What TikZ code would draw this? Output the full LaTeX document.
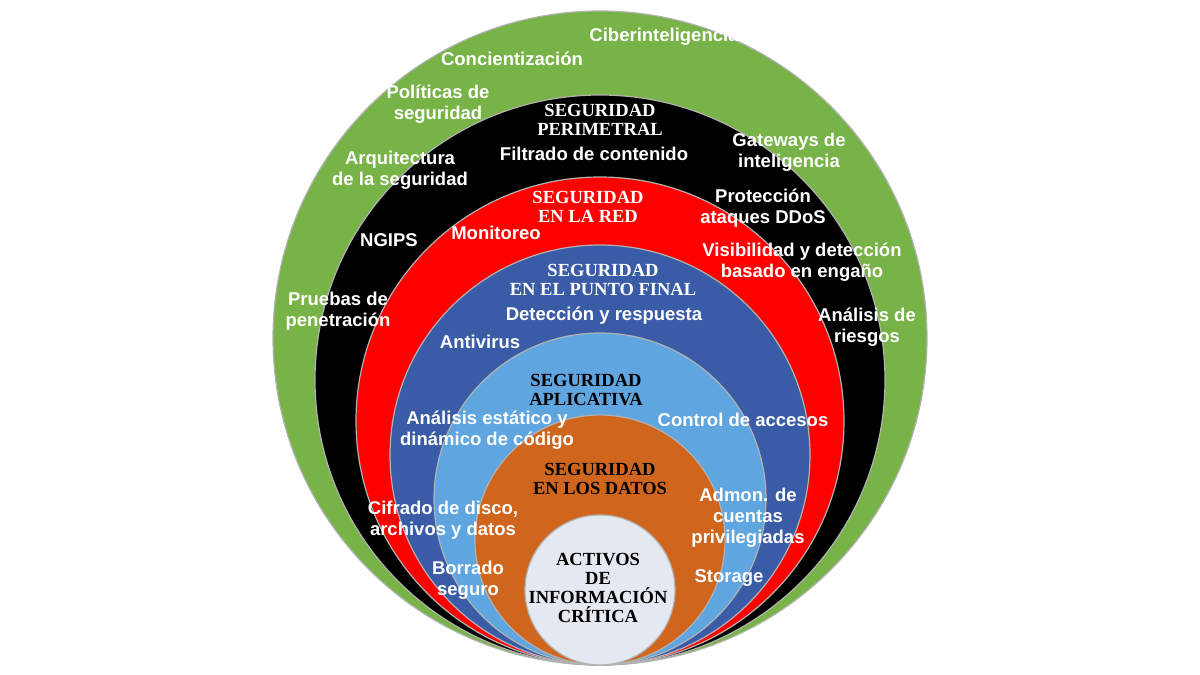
\documentclass[tikz,border=0pt]{standalone}
\usepackage{fontspec}
\setmainfont{Liberation Sans}
\newfontfamily\titlefont{Liberation Serif}
\definecolor{ringgreen}{HTML}{78B347}
\definecolor{ringred}{HTML}{FF0000}
\definecolor{ringblue}{HTML}{3A5CA6}
\definecolor{ringlight}{HTML}{5FA5E0}
\definecolor{ringorange}{HTML}{D0661E}
\definecolor{ringcore}{HTML}{E4E8F0}
\tikzset{
  ring/.style={draw=gray!60, line width=1.2pt},
  lbl/.style={text=white, font=\fontsize{18.5}{21}\selectfont\bfseries, align=center, inner sep=0pt},
  ttl/.style={text=white, font=\titlefont\fontsize{18.5}{19}\selectfont\bfseries, align=center, inner sep=0pt},
}
\begin{document}
\begin{tikzpicture}[x=1pt,y=-1pt]
            \useasboundingbox (0,0) rectangle (1200,675);
            % rings, outside in, all touching at the bottom
            \fill[ring, fill=ringgreen] (600,338) circle (327);
            \fill[ring, fill=black] (600,380) circle (285);
            \fill[ring, fill=ringred] (600,421) circle (244);
            \fill[ring, fill=ringblue] (600,455) circle (210);
            \fill[ring, fill=ringlight] (600,499) circle (166);
            \fill[ring, fill=ringorange] (600,540) circle (125);
            \fill[ring, fill=ringcore] (600,590) circle (75);

            % titles
            \node[ttl] (tPer) at (600,120) {SEGURIDAD\\PERIMETRAL};
            \node[ttl] (tRed) at (588,207) {SEGURIDAD\\EN LA RED};
            \node[ttl] (tFin) at (603,280) {SEGURIDAD\\EN EL PUNTO FINAL};
            \node[ttl, text=black] (tApl) at (586,390) {SEGURIDAD\\APLICATIVA};
            \node[ttl, text=black] (tDat) at (600,479) {SEGURIDAD\\EN LOS DATOS};
            \node[ttl, text=black] (tAct) at (598,588) {ACTIVOS\\DE\\INFORMACIÓN\\CRÍTICA};

            % labels
            \node[lbl] (cib) at (664,37) {Ciberinteligencia};
            \node[lbl] (con) at (512,59) {Concientización};
            \node[lbl] (pol) at (438,104) {Políticas de\\seguridad};
            \node[lbl] (fil) at (594,154) {Filtrado de contenido};
            \node[lbl] (gat) at (789,152) {Gateways de\\inteligencia};
            \node[lbl] (arq) at (400,170) {Arquitectura\\de la seguridad};
            \node[lbl] (pro) at (763,208) {Protección\\ataques DDoS};
            \node[lbl] (ngi) at (389,240) {NGIPS};
            \node[lbl] (mon) at (496,233) {Monitoreo};
            \node[lbl] (vis) at (802,262) {Visibilidad y detección\\basado en engaño};
            \node[lbl] (pru) at (338,311) {Pruebas de\\penetración};
            \node[lbl] (det) at (604,316) {Detección y respuesta};
            \node[lbl] (ana) at (867,327) {Análisis de\\riesgos};
            \node[lbl] (ant) at (480,342) {Antivirus};
            \node[lbl] (est) at (487,430) {Análisis estático y\\dinámico de código};
            \node[lbl] (acc) at (743,420) {Control de accesos};
            \node[lbl] (adm) at (748,518) {Admon. de\\cuentas\\privilegiadas};
            \node[lbl] (cif) at (443,520) {Cifrado de disco,\\archivos y datos};
            \node[lbl] (bor) at (468,580) {Borrado\\seguro};
            \node[lbl] (sto) at (729,578) {Storage};
\end{tikzpicture}
\end{document}
